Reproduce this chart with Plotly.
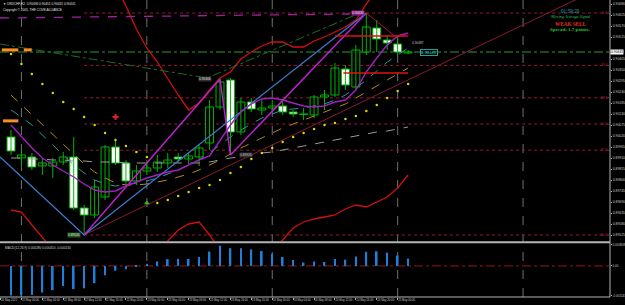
import plotly.graph_objects as go
from datetime import datetime, timedelta

# ---------------- data ----------------
bars = list(range(39))
opens = [0.90016, 0.89911, 0.89916, 0.89871, 0.89871, 0.89891, 0.89916, 0.89661, 0.89626, 0.89716,
         0.89966, 0.89886, 0.89796, 0.89846, 0.89861, 0.89886, 0.89916, 0.89906, 0.89916, 0.89986,
         0.90166, 0.90301, 0.90041, 0.90191, 0.90151, 0.90161, 0.90171, 0.90141, 0.90131, 0.90126,
         0.90216, 0.90226, 0.90356, 0.90266, 0.90441, 0.90561, 0.90501, 0.90481, 0.90436]
highs = [0.90051, 0.89951, 0.89936, 0.89911, 0.89911, 0.89941, 0.90016, 0.89676, 0.89801, 0.89976,
         0.90001, 0.89901, 0.89876, 0.89901, 0.89926, 0.89936, 0.89936, 0.89941, 0.89976, 0.90201,
         0.90306, 0.90311, 0.90211, 0.90211, 0.90201, 0.90201, 0.90201, 0.90151, 0.90161, 0.90226,
         0.90251, 0.90386, 0.90376, 0.90476, 0.90636, 0.90601, 0.90526, 0.90511, 0.90451]
lows = [0.89926, 0.89876, 0.89851, 0.89826, 0.89811, 0.89876, 0.89651, 0.89526, 0.89611, 0.89701,
        0.89876, 0.89776, 0.89776, 0.89826, 0.89841, 0.89861, 0.89891, 0.89881, 0.89871, 0.89951,
        0.90151, 0.89926, 0.90026, 0.90141, 0.90126, 0.90141, 0.90126, 0.90116, 0.90101, 0.90111,
        0.90151, 0.90216, 0.90251, 0.90251, 0.90426, 0.90441, 0.90451, 0.90426, 0.90431]
closes = [0.89946, 0.89926, 0.89866, 0.89886, 0.89891, 0.89916, 0.89661, 0.89626, 0.89766, 0.89966,
          0.89886, 0.89796, 0.89846, 0.89861, 0.89891, 0.89901, 0.89906, 0.89921, 0.89961, 0.90166,
          0.90291, 0.90041, 0.90191, 0.90156, 0.90161, 0.90171, 0.90141, 0.90131, 0.90128, 0.90216,
          0.90226, 0.90361, 0.90276, 0.90451, 0.90566, 0.90506, 0.90486, 0.90441, 0.90441]

ma_purple = [0.90076, 0.90016, 0.89961, 0.89911, 0.89876, 0.89846, 0.89816, 0.89781, 0.89751, 0.89741,
             0.89746, 0.89771, 0.89791, 0.89811, 0.89826, 0.89841, 0.89851, 0.89876, 0.89901, 0.89921,
             0.90001, 0.90076, 0.90141, 0.90181, 0.90206, 0.90211, 0.90201, 0.90186, 0.90171, 0.90166,
             0.90171, 0.90191, 0.90201, 0.90251, 0.90341, 0.90411, 0.90476, 0.90521, 0.90536]
ma_teal = [0.90151, 0.90116, 0.90076, 0.90026, 0.89976, 0.89926, 0.89876, 0.89836, 0.89801, 0.89781,
           0.89771, 0.89776, 0.89786, 0.89796, 0.89811, 0.89831, 0.89851, 0.89876, 0.89901, 0.89936,
           0.89976, 0.90016, 0.90051, 0.90081, 0.90111, 0.90131, 0.90151, 0.90156, 0.90161, 0.90171,
           0.90181, 0.90201, 0.90226, 0.90261, 0.90301, 0.90346, 0.90391, 0.90426, 0.90461]
ma_gold = [0.90226, 0.90176, 0.90126, 0.90076, 0.90026, 0.89976, 0.89926, 0.89881, 0.89841, 0.89811,
           0.89786, 0.89776, 0.89776, 0.89781, 0.89791, 0.89801, 0.89816, 0.89831, 0.89851, 0.89876,
           0.89901, 0.89931, 0.89961, 0.89986, 0.90011, 0.90036, 0.90061, 0.90081, 0.90101, 0.90121,
           0.90141, 0.90161, 0.90181, 0.90211, 0.90241, 0.90271, 0.90301, 0.90331, 0.90361]
ma_gray = [0.89911, 0.89911, 0.89906, 0.89906, 0.89901, 0.89901, 0.89896, 0.89896, 0.89891, 0.89891,
           0.89891, 0.89886, 0.89886, 0.89886, 0.89886, 0.89886, 0.89886, 0.89886, 0.89886, 0.89891,
           0.89901, 0.89911, 0.89916, 0.89926, 0.89936, 0.89941, 0.89951, 0.89961, 0.89971, 0.89981,
           0.89991, 0.90001, 0.90011, 0.90021, 0.90031, 0.90041, 0.90046, 0.90056, 0.90066]
band_upper = [0.91301, 0.91251, 0.91201, 0.91151, 0.91101, 0.91051, 0.91001, 0.90951, 0.90901, 0.90851,
              0.90776, 0.90671, 0.90556, 0.90461, 0.90391, 0.90306, 0.90226, 0.90151, 0.90186, 0.90251,
              0.90311, 0.90341, 0.90406, 0.90441, 0.90471, 0.90491, 0.90491, 0.90466, 0.90466, 0.90496,
              0.90516, 0.90541, 0.90566, 0.90601, 0.90681, 0.90751, 0.90801, 0.90826, 0.90851]
band_lower = [0.89651, 0.89641, 0.89576, 0.89516, 0.89451, 0.89391, 0.89361, 0.89351, 0.89361, 0.89376,
              0.89391, 0.89411, 0.89426, 0.89441, 0.89461, 0.89496, 0.89551, 0.89581, 0.89591, 0.89526,
              0.89451, 0.89391, 0.89376, 0.89391, 0.89426, 0.89461, 0.89501, 0.89561, 0.89591, 0.89606,
              0.89616, 0.89626, 0.89656, 0.89676, 0.89666, 0.89691, 0.89716, 0.89761, 0.89826]
sar = [0.90431, 0.90381, 0.90331, 0.90281, 0.90236, 0.90191, 0.90156, 0.90116, 0.90076, 0.90036,
       0.90001, 0.89971, 0.89941, 0.89916, 0.89686, 0.89701, 0.89721, 0.89741, 0.89761, 0.89776,
       0.89801, 0.89836, 0.89866, 0.89906, 0.89936, 0.89961, 0.89991, 0.90016, 0.90036, 0.90056,
       0.90076, 0.90086, 0.90106, 0.90121, 0.90146, 0.90176, 0.90211, 0.90246, 0.90281]
macd = [-0.00113, -0.00113, -0.00111, -0.00102, -0.00093, -0.00077, -0.00089, -0.00085, -0.00066, -0.00036,
        -0.00018, -0.00013, -0.00003, 0.00006, 0.00017, 0.00026, 0.00027, 0.00027, 0.00034, 0.00055,
        0.00077, 0.00068, 0.00068, 0.00063, 0.00057, 0.00046, 0.00034, 0.00023, 0.00013, 0.00017,
        0.00015, 0.00027, 0.00024, 0.00036, 0.00054, 0.00056, 0.00051, 0.00040, 0.00028]

# drawn objects (bar index, price)
zigzag_x = [7, 20, 21, 34]
zigzag_y = [lows[7], highs[20], lows[21], highs[34]]
blue_a_x = [-1.05, 7]
blue_a_y = [0.89916, lows[7]]
blue_b_x = [7, 34]
blue_b_y = [lows[7], highs[34]]
leg_x = [34, 36.6]
leg_y = [highs[34], 0.90526]
ray_x = [7, 57.3]
ray_y = [lows[7], 0.90784]
green_v_x = [-1.05, 18.76, 33.4]
green_v_y = [0.90481, 0.90311, 0.90636]
purple_h_x = [-1.05, 32.4]
purple_h_y = [0.90611, 0.90631]
red_h1_x = [31.0, 38.0]
red_h1_y = [0.90521, 0.90521]
red_h2_x = [31.8, 38.0]
red_h2_y = [0.90336, 0.90336]
fib_levels = [0.0, 23.6, 38.2, 50.0, 61.8, 100.0]

price_ticks = [0.90680 - 0.00055 * k for k in range(22) if k != 4]
macd_ticks = [0.000808, 0.0, -0.001143]
macd_ticktext = ["0.000808", "0.00", "-0.001143"]

XMIN, XMAX = -1.053, 57.32
YMAIN = [0.89496, 0.90701]
YMACD = [-0.00119, 0.00084]
SMALL = "Liberation Sans"

# ---------------- figure ----------------
fig = go.Figure()
GREEN = "#00b400"

wx, wy = [], []
for i in bars:
    wx += [i, i, None]
    wy += [lows[i], highs[i], None]
fig.add_trace(go.Scatter(x=wx, y=wy, mode="lines", line=dict(color=GREEN, width=1),
                         hoverinfo="skip", showlegend=False))
base = [min(o, c) for o, c in zip(opens, closes)]
height = [max(abs(c - o), 0.00002) for o, c in zip(opens, closes)]
fills = ["#000000" if c >= o else "#ffffff" for o, c in zip(opens, closes)]
fig.add_trace(go.Bar(x=bars, y=height, base=base, width=0.76,
                     marker=dict(color=fills, line=dict(color=GREEN, width=1)),
                     showlegend=False, hoverinfo="skip"))

def line(x, y, color, width=1, dash="solid"):
    fig.add_trace(go.Scatter(x=x, y=y, mode="lines", line=dict(color=color, width=width, dash=dash),
                             hoverinfo="skip", showlegend=False))

line(bars, ma_gray, "#9a9a9a", 1, "dash")
line(bars, ma_gold, "#b08a1a", 1, "dash")
line(bars, ma_teal, "#2a9a9a", 1, "dash")
line(bars, band_upper, "#d01010", 1.3)
line(bars, band_lower, "#d01010", 1.3)
line(green_v_x, green_v_y, "#1e6e1e", 1, "dashdot")
line(purple_h_x, purple_h_y, "#a020a0", 1.3, "dash")
line(ray_x, ray_y, "#8a1a2a", 1)
line(blue_a_x, blue_a_y, "#3a7fd0", 1.2)
line(blue_b_x, blue_b_y, "#3a7fd0", 1.2)
line(zigzag_x, zigzag_y, "#c020d0", 1.4)
line(leg_x, leg_y, "#a02030", 1)
line(bars, ma_purple, "#a020c0", 1.4)
line(red_h1_x, red_h1_y, "#e01010", 1.3)
line(red_h2_x, red_h2_y, "#e01010", 1.3)

fig.add_trace(go.Scatter(x=bars, y=sar, mode="markers",
                         marker=dict(color="#d8d800", size=2.5, line=dict(width=0)),
                         hoverinfo="skip", showlegend=False))
fig.add_trace(go.Scatter(x=[13], y=[0.89686], mode="markers",
                         marker=dict(symbol="triangle-up", color="#20c020", size=5),
                         hoverinfo="skip", showlegend=False))
fig.add_trace(go.Scatter(x=[10], y=[0.90116], mode="markers",
                         marker=dict(symbol="cross", color="#e02020", size=5),
                         hoverinfo="skip", showlegend=False))

fig.add_trace(go.Bar(x=bars, y=macd, width=0.16, marker=dict(color="#1e7fd8", line=dict(width=0)),
                     xaxis="x2", yaxis="y2", showlegend=False, hoverinfo="skip"))

shapes = []
t0 = datetime(2022, 5, 22, 0, 0)
def bar_time(i):
    if i == 0:
        return datetime(2022, 5, 20, 22, 0)
    return t0 + timedelta(hours=2 * (i - 1))
for i in range(0, 58):
    if i >= 1 and bar_time(i).hour == 0:
        shapes.append(dict(type="line", xref="x", yref="paper", x0=i, x1=i, y0=0, y1=1,
                           line=dict(color="#707070", width=1, dash="dash"), layer="below"))
fhi, flo = highs[34], lows[7]
for lv in fib_levels:
    p = fhi - lv / 100 * (fhi - flo)
    shapes.append(dict(type="line", xref="x", yref="y", x0=7, x1=XMAX, y0=p, y1=p,
                       line=dict(color="#9a1a30", width=1, dash="dot"), layer="below"))
shapes.append(dict(type="line", xref="x", yref="y", x0=XMIN, x1=XMAX, y0=closes[-1], y1=closes[-1],
                   line=dict(color="#2a9a2a", width=1, dash="dashdot"), layer="below"))
shapes.append(dict(type="line", xref="x2", yref="y2", x0=XMIN, x1=XMAX, y0=0, y1=0,
                   line=dict(color="#a01010", width=1, dash="dashdot"), layer="below"))
shapes.append(dict(type="line", xref="paper", yref="paper", x0=0, x1=1, y0=0.1845, y1=0.1845,
                   line=dict(color="#b4b4b4", width=2)))
shapes.append(dict(type="line", xref="paper", yref="paper", x0=0, x1=1, y0=0, y1=0,
                   line=dict(color="#b4b4b4", width=1)))
shapes.append(dict(type="line", xref="paper", yref="paper", x0=1, x1=1, y0=0, y1=1,
                   line=dict(color="#b4b4b4", width=1)))
for (xa, xb, yy) in [(0.003, 0.03, 0.832), (0.039, 0.052, 0.832), (0.005, 0.03, 0.593)]:
    shapes.append(dict(type="line", xref="paper", yref="paper", x0=xa, x1=xb, y0=yy, y1=yy,
                       line=dict(color="#ff8c20", width=3)))

ann = []
def T(x, y, text, size=3.2, color="#d0d0d0", xref="x", yref="y", xanchor="left", bg=None,
      border=None, family=SMALL):
    a = dict(x=x, y=y, xref=xref, yref=yref, text=text, showarrow=False, xanchor=xanchor,
             yanchor="middle", font=dict(size=size, color=color, family=family), borderpad=0)
    if bg:
        a["bgcolor"] = bg
    if border:
        a["bordercolor"] = border
        a["borderwidth"] = 1
    ann.append(a)

T(0.004, 0.987, "▼ USDCHF,H2  %.5f %.5f %.5f %.5f" % (opens[-1], highs[-1], lows[-1], closes[-1]),
  3.2, "#e0e0e0", "paper", "paper")
T(0.004, 0.966, "Copyright © 2005, THE COVE ALLIANCE", 3.2, "#e0e0e0", "paper", "paper")
T(0.006, 0.165, "MACD(12,26,9) %.6f 0.000410 -0.000130" % macd[-1], 3.2, "#d0d0d0", "paper", "paper")

T(0.936, 0.964, "01:59:20", 5.2, "#20b0b0", "paper", "paper", "center", family="Liberation Serif")
T(0.936, 0.945, "<i>Moving Average Signal</i>", 4.2, "#30c060", "paper", "paper", "center",
  family="Liberation Serif")
T(0.936, 0.92, "<b>WEAK SELL</b>", 5.2, "#e03018", "paper", "paper", "center", family="Liberation Serif")
T(0.936, 0.899, "<b>Spread: 1.7 points.</b>", 5.0, "#20c020", "paper", "paper", "center",
  family="Liberation Serif")

for lv in fib_levels:
    p = fhi - lv / 100 * (fhi - flo)
    T(0.997, p, "%.1f" % lv, 3.2, "#b02040", "paper", "y", "right")

T(19.2, highs[20], "%.5f" % highs[20], 3.2, "#e0e0e0", xanchor="right", bg="#303030")
T(6.7, lows[7], "%.5f" % lows[7], 3.2, "#e0e0e0", xanchor="right", bg="#1e5a1e")
T(33.9, highs[34], "%.5f" % highs[34], 3.2, "#e0e0e0", xanchor="right", bg="#8a208a")
T(21.8, lows[21], "%.5f" % lows[21], 3.2, "#c0c0c0", bg="#303030")
T(39.1, closes[-1], "%.5f" % closes[-1], 4.2, "#40d0c0", border="#20a0a0")
T(38.3, 0.90487, "0.90487", 3.2, "#c0c0c0")
T(1.0, closes[-1], "%.5f" % closes[-1], 3.4, "#000000", "paper", "y", "left", bg="#ffffff")

# time labels: first one sits at the left edge, then every second bar
tickvals = [XMIN + 0.05] + list(range(1, 38, 2))
ticktext = [bar_time(0).strftime("%d %b %Y")] + [bar_time(i).strftime("%d %b %H:%M") for i in range(1, 38, 2)]

fig.update_layout(
    width=625, height=305, margin=dict(l=0, r=15, t=0, b=8, autoexpand=False),
    paper_bgcolor="#000000", plot_bgcolor="#000000",
    barmode="overlay", showlegend=False,
    shapes=shapes, annotations=ann,
    xaxis=dict(range=[XMIN, XMAX], showgrid=False, zeroline=False, showticklabels=False,
               anchor="y", showline=False, automargin=False),
    xaxis2=dict(range=[XMIN, XMAX], showgrid=False, zeroline=False, anchor="y2", matches="x",
                tickvals=tickvals, ticktext=ticktext, ticklabelposition="outside right",
                tickangle=0, automargin=False,
                ticks="outside", ticklen=2, tickcolor="#b0b0b0",
                tickfont=dict(size=2.8, color="#c8c8c8", family=SMALL), showline=False),
    yaxis=dict(domain=[0.1886, 1], range=YMAIN, side="right", showgrid=False, zeroline=False,
               tickvals=price_ticks, ticktext=["%.5f" % v for v in price_ticks], automargin=False,
               ticks="outside", ticklen=1, tickcolor="#b0b0b0",
               tickfont=dict(size=3.4, color="#c8c8c8", family=SMALL), anchor="x"),
    yaxis2=dict(domain=[0, 0.1785], range=YMACD, side="right", showgrid=False, zeroline=False,
                tickvals=macd_ticks, ticktext=macd_ticktext, ticks="outside", ticklen=1,
                automargin=False,
                tickcolor="#b0b0b0", tickfont=dict(size=3.0, color="#c8c8c8", family=SMALL),
                anchor="x2"),
)

fig.write_html("out.html")
